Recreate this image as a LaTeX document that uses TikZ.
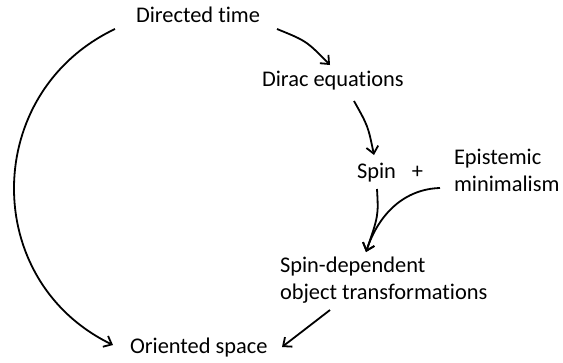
\documentclass[tikz,border=0pt]{standalone}
\usepackage{fontspec}
\setmainfont{Carlito}[Ligatures={NoCommon}]
\usetikzlibrary{arrows.meta}
\tikzset{
  lbl/.style={inner sep=0pt, outer sep=0pt, anchor=base west, align=left,
    font=\fontsize{22.4}{27}\selectfont},
  arr/.style={line width=1.8pt, -{Straight Barb[length=7pt,width=12pt]}}
}
\begin{document}
\begin{tikzpicture}[x=1pt,y=-1pt]
\useasboundingbox (0,0) rectangle (563,362);
\node[lbl] (dt) at (136,22) {Directed time};
\node[lbl] (de) at (262,86) {Dirac equations};
\node[lbl] (sp) at (357,178) {Spin};
\node[lbl, anchor=base] (pl) at (417.5,178) {+};
\node[lbl] (em) at (454,191) {Epistemic\\minimalism};
\node[lbl] (sd) at (280,299) {Spin-dependent\\object transformations};
\node[lbl] (os) at (130,353) {Oriented space};

\draw[arr] ([shift={(141,7)}]dt.base west) .. controls (306.5,41) .. ([shift={(68,-21)}]de.base west);
\draw[arr] ([shift={(92,15)}]de.base west) .. controls (368,126) .. ([shift={(17,-23)}]sp.base west);
\draw[arr] ([shift={(20,11)}]sp.base west) .. controls (378.5,215.5) .. ([shift={(86,-47)}]sd.base west);
\draw[arr] ([shift={(-14,-3)}]em.base west) .. controls (405,189) and (379,213) .. ([shift={(86,-47)}]sd.base west);
\draw[arr] ([shift={(50,11)}]sd.base west) .. controls (308,327) .. ([shift={(152,-6)}]os.base west);
\draw[arr] ([shift={(-21,7)}]dt.base west) .. controls (-18.2,92.3) and (-19.8,280.6) .. ([shift={(-17,-8)}]os.base west);
\end{tikzpicture}
\end{document}
